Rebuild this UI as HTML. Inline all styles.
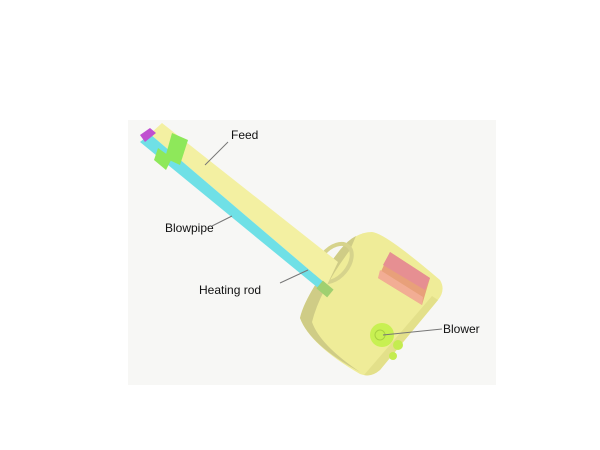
<!DOCTYPE html>
<html><head><style>
html,body{margin:0;padding:0;background:#fff;width:600px;height:450px;overflow:hidden}
svg{display:block}
text{font-family:"Liberation Sans",Arial,sans-serif;font-size:12px;fill:#111}
</style></head><body>
<svg width="600" height="450" viewBox="0 0 600 450">
<rect x="128" y="120" width="368" height="265" fill="#f7f7f5"/>
<!-- cylinder -->
<path d="M300,318 Q305,295 340,250 Q355,232 372,232 Q385,233 440,280 Q446,290 438,300 L380,370 Q370,378 360,374 Q310,345 300,318 Z" fill="#efec98"/>
<path d="M300,318 Q305,295 340,250 Q348,240 356,236 L350,250 Q320,290 312,322 Q320,345 360,372 Q310,345 300,318 Z" fill="#cfcc86"/>
<path d="M438,300 L380,370 Q372,377 364,375 L432,296 Z" fill="#e3e08a"/>
<ellipse cx="334" cy="263" rx="14" ry="22" transform="rotate(40 334 263)" fill="none" stroke="#d6d38c" stroke-width="4"/>
<!-- pink block -->
<polygon points="390,252 430,278 422,305 378,278" fill="#e8a07a"/>
<polygon points="390,252 430,278 425,290 383,265" fill="#e68f92"/>
<polygon points="378,278 422,305 423,297 380,270" fill="#f2ad94"/>
<!-- blower -->
<circle cx="382" cy="335" r="12" fill="#c8f052"/>
<circle cx="380" cy="335" r="5" fill="none" stroke="#a8d040" stroke-width="1"/>
<circle cx="398" cy="345" r="5" fill="#c4ec50"/>
<circle cx="393" cy="356" r="4" fill="#c4ec50"/>
<!-- feed tube -->
<polygon points="162,123 338,262 327,285 150,134" fill="#f3f0a2"/>
<polygon points="150,134 327,285 323,292 140,142" fill="#6fe0e6"/>
<polygon points="140,135 150,128 156,133 145,142" fill="#c050d0"/>
<!-- green bands -->
<polygon points="172,133 188,140 180,165 165,158" fill="#8ee85a"/>
<polygon points="158,148 172,158 166,170 154,160" fill="#8ee85a"/>
<rect x="318" y="284" width="14" height="10" fill="#a0d070" transform="rotate(40 325 289)"/>
<!-- leaders -->
<g stroke="#777" stroke-width="1">
<line x1="228" y1="142" x2="205" y2="165"/>
<line x1="212" y1="226" x2="232" y2="216"/>
<line x1="280" y1="283" x2="308" y2="270"/>
<line x1="442" y1="329" x2="383" y2="335"/>
</g>
<text x="231" y="139">Feed</text>
<text x="165" y="232">Blowpipe</text>
<text x="199" y="294">Heating rod</text>
<text x="443" y="333">Blower</text>
</svg>
</body></html>
